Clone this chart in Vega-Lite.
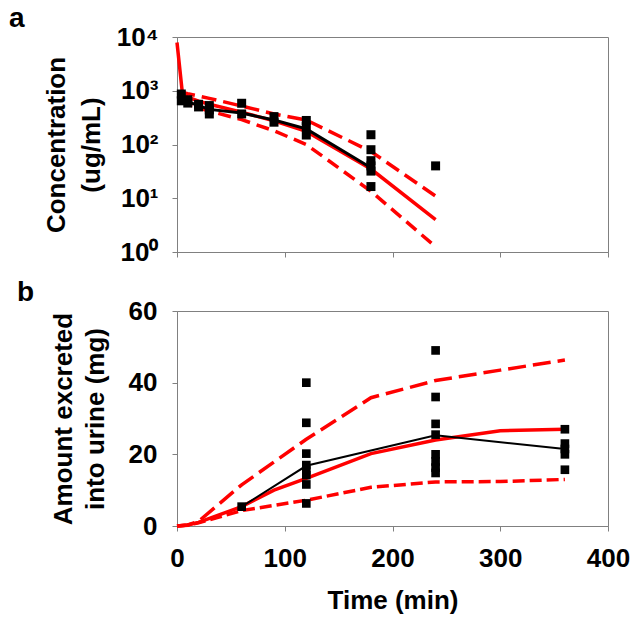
{
  "$schema": "https://vega.github.io/schema/vega-lite/v6.json",
  "padding": {"left": 8, "top": 4, "right": 5, "bottom": 5},
  "spacing": 59,
  "bounds": "flush",
  "config": {
    "font": "Liberation Sans",
    "view": {"stroke": "#808080", "strokeWidth": 1},
    "axis": {
      "labelFont": "Liberation Sans", "labelFontSize": 26, "labelFontWeight": "bold", "labelColor": "black",
      "titleFont": "Liberation Sans", "titleFontSize": 26, "titleFontWeight": "bold", "titleColor": "black",
      "domainColor": "#808080", "tickColor": "#808080", "grid": false, "tickSize": 5, "labelFlush": false, "labelOverlap": false
    }
  },
  "datasets": {
    "a_pred": [
      {"t": 0, "v": 7900}, {"t": 5, "v": 900}, {"t": 10, "v": 760}, {"t": 20, "v": 640}, {"t": 30, "v": 560},
      {"t": 60, "v": 400}, {"t": 90, "v": 275}, {"t": 120, "v": 175}, {"t": 180, "v": 35}, {"t": 240, "v": 4.0}
    ],
    "a_upper": [
      {"t": 3, "v": 950}, {"t": 10, "v": 880}, {"t": 20, "v": 800}, {"t": 30, "v": 720}, {"t": 60, "v": 520},
      {"t": 90, "v": 370}, {"t": 120, "v": 285}, {"t": 180, "v": 74}, {"t": 240, "v": 11}
    ],
    "a_lower": [
      {"t": 3, "v": 640}, {"t": 10, "v": 560}, {"t": 20, "v": 480}, {"t": 30, "v": 420}, {"t": 60, "v": 290},
      {"t": 90, "v": 180}, {"t": 120, "v": 100}, {"t": 180, "v": 13.5}, {"t": 240, "v": 1.25}
    ],
    "a_obs": [
      {"t": 4, "v": 870}, {"t": 4, "v": 650}, {"t": 10, "v": 680}, {"t": 10, "v": 590},
      {"t": 20, "v": 560}, {"t": 20, "v": 500}, {"t": 30, "v": 530}, {"t": 30, "v": 440}, {"t": 30, "v": 370},
      {"t": 60, "v": 585}, {"t": 60, "v": 370}, {"t": 90, "v": 330}, {"t": 90, "v": 260},
      {"t": 120, "v": 280}, {"t": 120, "v": 215}, {"t": 120, "v": 150},
      {"t": 180, "v": 152}, {"t": 180, "v": 80}, {"t": 180, "v": 50}, {"t": 180, "v": 40}, {"t": 180, "v": 32}, {"t": 180, "v": 16.5},
      {"t": 240, "v": 40}
    ],
    "a_mean": [
      {"t": 4, "v": 750}, {"t": 10, "v": 630}, {"t": 20, "v": 530}, {"t": 30, "v": 450}, {"t": 60, "v": 385},
      {"t": 90, "v": 285}, {"t": 120, "v": 195}, {"t": 180, "v": 37}
    ],
    "b_pred": [
      {"t": 0, "v": 0}, {"t": 10, "v": 0.3}, {"t": 20, "v": 1.0}, {"t": 60, "v": 5.4}, {"t": 90, "v": 10}, {"t": 120, "v": 13.3},
      {"t": 180, "v": 20.2}, {"t": 240, "v": 24.0}, {"t": 300, "v": 26.6}, {"t": 360, "v": 27.0}
    ],
    "b_upper": [
      {"t": 0, "v": 0}, {"t": 10, "v": 0.3}, {"t": 20, "v": 1.3}, {"t": 60, "v": 11.5}, {"t": 120, "v": 24.2},
      {"t": 180, "v": 35.8}, {"t": 240, "v": 40.6}, {"t": 300, "v": 43.5}, {"t": 360, "v": 46.3}
    ],
    "b_lower": [
      {"t": 0, "v": 0}, {"t": 10, "v": 0.2}, {"t": 20, "v": 0.9}, {"t": 60, "v": 4.3}, {"t": 120, "v": 7.2},
      {"t": 180, "v": 10.8}, {"t": 240, "v": 12.3}, {"t": 300, "v": 12.4}, {"t": 360, "v": 13.0}
    ],
    "b_obs": [
      {"t": 60, "v": 5.4},
      {"t": 120, "v": 40}, {"t": 120, "v": 28.8}, {"t": 120, "v": 20.2}, {"t": 120, "v": 17.0}, {"t": 120, "v": 15.5}, {"t": 120, "v": 14.2}, {"t": 120, "v": 11.6}, {"t": 120, "v": 6.3},
      {"t": 240, "v": 49}, {"t": 240, "v": 36}, {"t": 240, "v": 28.5}, {"t": 240, "v": 25.5}, {"t": 240, "v": 20}, {"t": 240, "v": 18}, {"t": 240, "v": 16.3}, {"t": 240, "v": 14.8},
      {"t": 360, "v": 27}, {"t": 360, "v": 23}, {"t": 360, "v": 21.5}, {"t": 360, "v": 20}, {"t": 360, "v": 15.7}
    ],
    "b_mean": [
      {"t": 60, "v": 5.4}, {"t": 120, "v": 16.8}, {"t": 240, "v": 25.3}, {"t": 360, "v": 21.5}
    ]
  },
  "vconcat": [
    {
      "width": 431, "height": 215,
      "title": {"text": "a", "anchor": "start", "frame": "group", "fontSize": 28, "fontWeight": "bold", "font": "Liberation Sans", "color": "black", "dx": -168, "offset": -31, "baseline": "alphabetic"},
      "encoding": {
        "x": {"field": "t", "type": "quantitative", "scale": {"domain": [0, 400], "nice": false},
              "axis": {"values": [0, 100, 200, 300, 400], "labels": false, "title": null}},
        "y": {"field": "v", "type": "quantitative", "scale": {"type": "log", "domain": [1, 10000], "nice": false},
              "axis": {"values": [1, 10, 100, 1000, 10000], "labelPadding": 14, "titlePadding": 12, "titleLineHeight": 35,
                       "title": ["Concentration", "(ug/mL)"],
                       "labelExpr": "datum.value == 1 ? '10⁰' : datum.value == 10 ? '10¹' : datum.value == 100 ? '10²' : datum.value == 1000 ? '10³' : '10⁴'"}}
      },
      "layer": [
        {"data": {"name": "a_upper"}, "mark": {"type": "line", "color": "#FF0000", "strokeWidth": 3.5, "strokeDash": [15, 7]}},
        {"data": {"name": "a_lower"}, "mark": {"type": "line", "color": "#FF0000", "strokeWidth": 3.5, "strokeDash": [13, 7]}},
        {"data": {"name": "a_pred"}, "mark": {"type": "line", "color": "#FF0000", "strokeWidth": 3.5}},
        {"data": {"name": "a_mean"}, "mark": {"type": "line", "color": "black", "strokeWidth": 3}},
        {"data": {"name": "a_obs"}, "mark": {"type": "square", "color": "black", "filled": true, "opacity": 1, "size": 81}}
      ]
    },
    {
      "width": 431, "height": 215,
      "title": {"text": "b", "anchor": "start", "frame": "group", "fontSize": 28, "fontWeight": "bold", "font": "Liberation Sans", "color": "black", "dx": -160, "offset": -31, "baseline": "alphabetic"},
      "encoding": {
        "x": {"field": "t", "type": "quantitative", "scale": {"domain": [0, 400], "nice": false},
              "axis": {"values": [0, 100, 200, 300, 400], "title": "Time (min)", "labelPadding": 14, "titlePadding": 16}},
        "y": {"field": "v", "type": "quantitative", "scale": {"domain": [0, 60], "nice": false},
              "axis": {"values": [0, 20, 40, 60], "labelPadding": 15, "titlePadding": 20, "titleLineHeight": 32,
                       "title": ["Amount excreted", "into urine (mg)"]}}
      },
      "layer": [
        {"data": {"name": "b_upper"}, "mark": {"type": "line", "color": "#FF0000", "strokeWidth": 3.5, "strokeDash": [18, 7]}},
        {"data": {"name": "b_lower"}, "mark": {"type": "line", "color": "#FF0000", "strokeWidth": 3.5, "strokeDash": [12, 5]}},
        {"data": {"name": "b_pred"}, "mark": {"type": "line", "color": "#FF0000", "strokeWidth": 3.5}},
        {"data": {"name": "b_mean"}, "mark": {"type": "line", "color": "black", "strokeWidth": 2}},
        {"data": {"name": "b_obs"}, "mark": {"type": "square", "color": "black", "filled": true, "opacity": 1, "size": 75}}
      ]
    }
  ]
}
